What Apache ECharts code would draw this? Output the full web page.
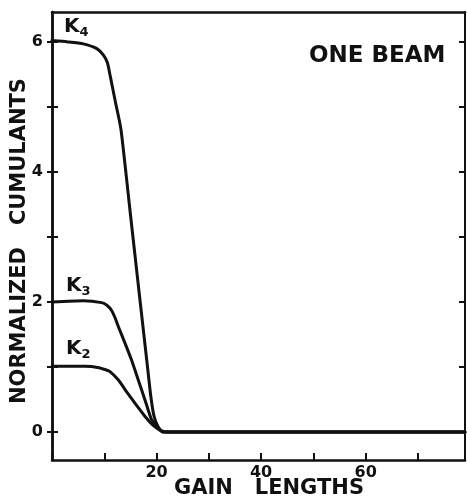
<!DOCTYPE html>
<html><head><meta charset="utf-8">
<script src="https://cdn.jsdelivr.net/npm/echarts@6/dist/echarts.min.js"></script>
<style>html,body{margin:0;padding:0;background:#fff}#c{width:467px;height:498px}</style>
</head><body><div id="c"></div>
<script>
// Gain lengths (x) and normalized cumulant values per curve
const k4X = [0, 3, 6, 8.5, 9.8, 10.6, 11.2, 12.2, 13.2, 15.0, 16.8, 18.2, 18.9, 19.5, 20.3, 21.3, 79];
const k4Y = [6.02, 6.0, 5.97, 5.9, 5.8, 5.68, 5.45, 5.05, 4.65, 3.35, 2.05, 1.05, 0.55, 0.25, 0.08, 0, 0];
const k3X = [0, 6, 9.5, 10.5, 11.4, 12.1, 12.7, 14, 15.2, 16.5, 17.8, 19, 20.3, 21.3, 79];
const k3Y = [2.0, 2.02, 1.99, 1.95, 1.87, 1.75, 1.62, 1.36, 1.11, 0.8, 0.49, 0.2, 0.05, 0, 0];
const k2X = [0, 6.3, 9, 10.2, 11.1, 12.7, 14, 15.9, 17.8, 19.4, 21, 22, 79];
const k2Y = [1.01, 1.01, 0.99, 0.96, 0.93, 0.8, 0.65, 0.44, 0.24, 0.1, 0.02, 0, 0];
const yTicks = [0, 1, 2, 3, 4, 5, 6];
const yLabels = [0, 2, 4, 6];
const xLabels = [20, 40, 60];
const curveNames = ['K4', 'K3', 'K2'];

const INK = '#111';
const FONT = 'DejaVu Sans';
const zip = (xs, ys) => xs.map((x, i) => [x, ys[i]]);

const chart = echarts.init(document.getElementById('c'), null, {renderer: 'canvas'});
const yBase = {
  type: 'value', min: -0.43, max: 6.46,
  splitLine: {show: false},
  axisLine: {show: true, onZero: false, lineStyle: {color: INK, width: 2.5}},
};
const series = [[k4X, k4Y], [k3X, k3Y], [k2X, k2Y]].map((d, i) => ({
  name: curveNames[i], type: 'line', data: zip(d[0], d[1]),
  showSymbol: false, smooth: 0.2, z: 3,
  lineStyle: {color: INK, width: 3, join: 'round', cap: 'round'}
}));

chart.setOption({
  animation: false,
  grid: {left: 52, right: 2, top: 12, bottom: 38},
  xAxis: [{
    type: 'value', min: 0, max: 79, interval: 10,
    splitLine: {show: false},
    axisLine: {onZero: false, lineStyle: {color: INK, width: 2.5}},
    axisTick: {inside: true, length: 7, lineStyle: {color: INK, width: 2}},
    axisLabel: {
      margin: 5, color: INK, fontFamily: FONT, fontWeight: 'bold', fontSize: 16,
      showMaxLabel: false,
      formatter: v => xLabels.includes(v) ? String(v) : ''
    }
  }, {
    type: 'value', position: 'top', min: 0, max: 79,
    splitLine: {show: false},
    axisLine: {show: true, onZero: false, lineStyle: {color: INK, width: 2.5}},
    axisTick: {show: false}, axisLabel: {show: false}
  }],
  yAxis: [Object.assign({}, yBase, {
    position: 'left',
    axisTick: {show: true, inside: true, length: 6, customValues: yTicks, lineStyle: {color: INK, width: 2}},
    axisLabel: {show: true, customValues: yLabels, margin: 9, color: INK, fontFamily: FONT, fontWeight: 'bold', fontSize: 16}
  }), Object.assign({}, yBase, {
    position: 'left',
    axisTick: {show: true, inside: false, length: 5, customValues: yTicks, lineStyle: {color: INK, width: 2}},
    axisLabel: {show: false}
  }), Object.assign({}, yBase, {
    position: 'right',
    axisLine: {show: true, onZero: false, lineStyle: {color: INK, width: 2}},
    axisTick: {show: true, inside: true, length: 6, customValues: yTicks, lineStyle: {color: INK, width: 2}},
    axisLabel: {show: false}
  })],
  series: series,
  graphic: [
    {type: 'text', left: 309, top: 45,
     style: {text: 'ONE BEAM', fill: INK, font: 'bold 23px "DejaVu Sans"'}},
    {type: 'text', x: 269, y: 489,
     style: {text: 'GAIN   LENGTHS', fill: INK, font: 'bold 21px "DejaVu Sans"', align: 'center', verticalAlign: 'middle'}},
    {type: 'text', x: 20, y: 241, rotation: Math.PI / 2,
     style: {text: 'NORMALIZED   CUMULANTS', fill: INK, font: 'bold 21px "DejaVu Sans"', align: 'center', verticalAlign: 'middle'}},
    {type: 'text', left: 64, top: 17,
     style: {text: '{k|K}{s|4}', fill: INK, rich: {k: {font: 'bold 20px "DejaVu Sans"', fill: INK}, s: {font: 'bold 13px "DejaVu Sans"', fill: INK, padding: [12, 0, 0, 0]}}}},
    {type: 'text', left: 66, top: 276,
     style: {text: '{k|K}{s|3}', fill: INK, rich: {k: {font: 'bold 20px "DejaVu Sans"', fill: INK}, s: {font: 'bold 13px "DejaVu Sans"', fill: INK, padding: [12, 0, 0, 0]}}}},
    {type: 'text', left: 66, top: 339,
     style: {text: '{k|K}{s|2}', fill: INK, rich: {k: {font: 'bold 20px "DejaVu Sans"', fill: INK}, s: {font: 'bold 13px "DejaVu Sans"', fill: INK, padding: [12, 0, 0, 0]}}}}
  ]
});
</script></body></html>
